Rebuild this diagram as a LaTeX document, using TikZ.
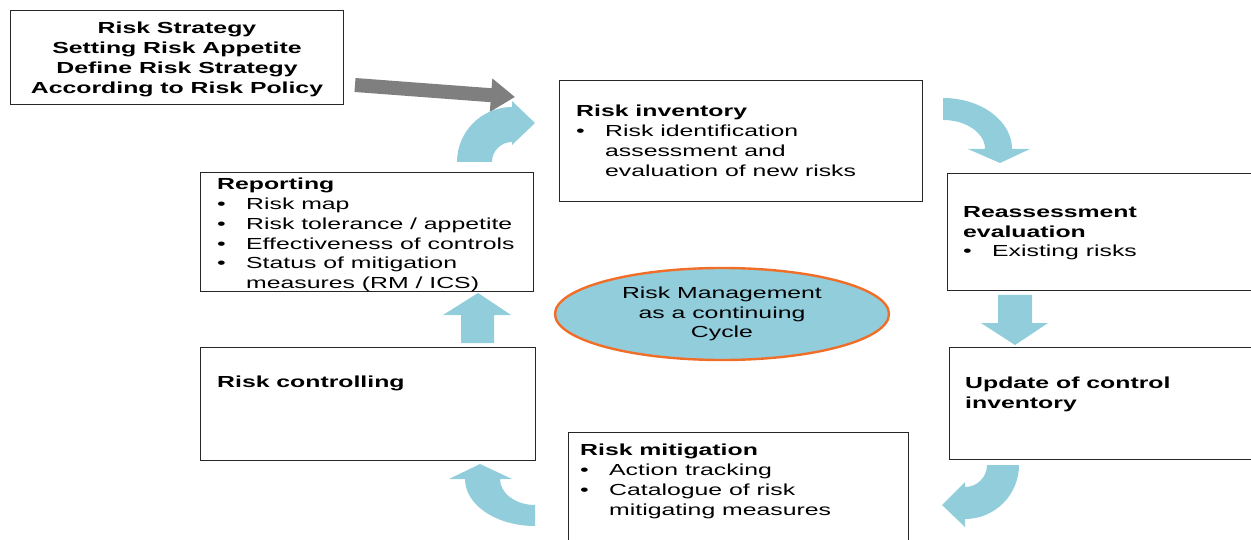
\documentclass[tikz,border=0pt]{standalone}
\usepackage{fontspec}
\setmainfont{Liberation Sans}[FakeStretch=1.55]
\usetikzlibrary{positioning,shapes.geometric,arrows.meta}
\definecolor{cycleblue}{RGB}{146,205,220}
\definecolor{cycleorange}{RGB}{240,110,40}
\definecolor{arrowgray}{RGB}{127,127,127}
\newcommand{\itm}{\makebox[29pt][l]{\textbullet}}
\newcommand{\cnt}{\hspace*{29pt}}
\tikzset{
  stepbox/.style={draw=black!85, line width=1pt, anchor=north west, inner sep=0pt},
  boxtext/.style={inner sep=0pt, align=left},
  blockarrow/.style={fill=cycleblue},
  grayarrow/.style={draw=arrowgray, line width=14pt, -{Triangle[length=24pt,width=32pt]}},
}

\begin{document}
\begin{tikzpicture}[x=1pt,y=-1pt,font=\fontsize{16}{19.8}\selectfont]
  \useasboundingbox (0,0) rectangle (1251,540);
  % boxes
  \node[stepbox, minimum width=333pt, minimum height=94pt] (strategy) at (10,10) {};
  \node[stepbox, minimum width=363pt, minimum height=121pt] (inv) at (559,80) {};
  \node[stepbox, minimum width=330pt, minimum height=117pt] (reas) at (947,173) {};
  \node[stepbox, minimum width=330pt, minimum height=112pt] (upd) at (949,347) {};
  \node[stepbox, minimum width=340pt, minimum height=130pt] (mit) at (568,432) {};
  \node[stepbox, minimum width=335pt, minimum height=113pt] (ctrl) at (200,347) {};
  \node[stepbox, minimum width=333pt, minimum height=119pt] (rep) at (200,172) {};
  % box texts
  \node[boxtext, align=center, yshift=-2pt] (strattext) at (strategy.center)
    {{\bfseries Risk Strategy}\\ {\bfseries Setting Risk Appetite}\\ {\bfseries Define Risk Strategy}\\ {\bfseries According to Risk Policy}};
  \node[boxtext, below right=25pt and 17pt of inv.north west] (invtext)
    {{\bfseries Risk inventory}\\ \itm Risk identification\\ \cnt assessment and\\ \cnt evaluation of new risks};
  \node[boxtext, below right=33pt and 16pt of reas.north west] (reastext)
    {{\bfseries Reassessment}\\ {\bfseries evaluation}\\ \itm Existing risks};
  \node[boxtext, below right=30pt and 16pt of upd.north west] (updtext)
    {{\bfseries Update of control}\\ {\bfseries inventory}};
  \node[boxtext, below right=12pt and 12pt of mit.north west] (mittext)
    {{\bfseries Risk mitigation}\\ \itm Action tracking\\ \itm Catalogue of risk\\ \cnt mitigating measures};
  \node[boxtext, below right=29pt and 17pt of ctrl.north west] (ctrltext)
    {{\bfseries Risk controlling}};
  \node[boxtext, below right=6pt and 17pt of rep.north west] (reptext)
    {{\bfseries Reporting}\\ \itm Risk map\\ \itm Risk tolerance / appetite\\ \itm Effectiveness of controls\\ \itm Status of mitigation\\ \cnt measures (RM / ICS)};
  % centre
  \node[ellipse, draw=cycleorange, line width=2.4pt, fill=cycleblue, minimum width=334pt,
        minimum height=92pt, align=center] (cycle) at (722,314)
    {Risk Management\\ as a continuing\\ Cycle};
  % strategy feeds the cycle
  \coordinate (graystart) at (355,85);
  \coordinate (graytip) at (515,97);
  \draw[grayarrow] (graystart) -- (graytip);
  % cycle arrows
  \fill[blockarrow] (457,162) arc[start angle=180, end angle=270, radius=55]
    -- (512,101) -- (535,123) -- (512,145) -- (512,142)
    arc[start angle=270, end angle=180, radius=20] -- cycle;
  \fill[blockarrow] (943,98) arc[start angle=270, end angle=360, x radius=69, y radius=51]
    -- (1030,149) -- (1000,163) -- (968,149) -- (985,149)
    arc[start angle=0, end angle=-90, x radius=42, y radius=29] -- cycle;
  \fill[blockarrow] (998,295) -- (1032,295) -- (1032,323) -- (1048,323) -- (1015,345)
    -- (981,323) -- (998,323) -- cycle;
  \fill[blockarrow] (987,465) -- (1019,465) arc[start angle=0, end angle=90, radius=54]
    -- (965,527) -- (942,505) -- (965,482) -- (965,487)
    arc[start angle=90, end angle=0, radius=22] -- cycle;
  \fill[blockarrow] (535,526) arc[start angle=90, end angle=180, x radius=70, y radius=47]
    -- (449,479) -- (480,464) -- (512,479) -- (500,479)
    arc[start angle=180, end angle=90, x radius=35, y radius=26] -- cycle;
  \fill[blockarrow] (461,343) -- (494,343) -- (494,315) -- (511,315) -- (478,293)
    -- (443,315) -- (461,315) -- cycle;
\end{tikzpicture}
\end{document}
